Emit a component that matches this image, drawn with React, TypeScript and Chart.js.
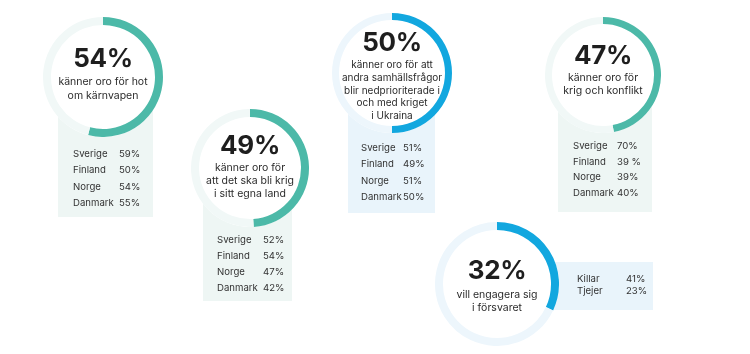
import React, { useEffect, useRef } from "react";
import { Chart, registerables } from "chart.js";

Chart.register(...registerables);

// ---- data ----
const headlineValues = [54, 49, 50, 47, 32];
const captions = [
  ["känner oro för hot", "om kärnvapen"],
  ["känner oro för", "att det ska bli krig", "i sitt egna land"],
  ["känner oro för att", "andra samhällsfrågor", "blir nedprioriterade i", "och med kriget", "i Ukraina"],
  ["känner oro för", "krig och konflikt"],
  ["vill engagera sig", "i försvaret"],
];
const countries = ["Sverige", "Finland", "Norge", "Danmark"];
const karnvapenValues = ["59%", "50%", "54%", "55%"];
const krigEgetLandValues = ["52%", "54%", "47%", "42%"];
const nedprioriteradeValues = ["51%", "49%", "51%", "50%"];
const krigKonfliktValues = ["70%", "39 %", "39%", "40%"];
const genders = ["Killar", "Tjejer"];
const engageraValues = ["41%", "23%"];

const tableLabels = [countries, countries, countries, countries, genders];
const tableValues = [karnvapenValues, krigEgetLandValues, nedprioriteradeValues, krigKonfliktValues, engageraValues];

// ---- styles / layout ----
const TEAL = { arc: "#4cb9a8", track: "#f1f8f7", panel: "#eef6f4" };
const BLUE = { arc: "#12a7df", track: "#edf6fc", panel: "#e9f4fb" };

const layout = [
  { cx: 103, cy: 77, r: 60, t: 8, c: TEAL, bigY: 58, capY: 82, capStep: 14, px: 58, py: 77, pw: 95, ph: 140, rowY: 154, rowStep: 16.3, lx: 73, vx: 119 },
  { cx: 250, cy: 168, r: 59, t: 8, c: TEAL, bigY: 145, capY: 168, capStep: 13, px: 203, py: 168, pw: 89, ph: 133, rowY: 240, rowStep: 16, lx: 217, vx: 263 },
  { cx: 392, cy: 73, r: 60, t: 7, c: BLUE, bigY: 42, capY: 64, capStep: 12.8, px: 348, py: 73, pw: 87, ph: 140, rowY: 148, rowStep: 16.3, lx: 361, vx: 403 },
  { cx: 603, cy: 75, r: 58, t: 7, c: TEAL, bigY: 55, capY: 78, capStep: 13, px: 558, py: 75, pw: 94, ph: 137, rowY: 146, rowStep: 15.7, lx: 573, vx: 617 },
  { cx: 497, cy: 284, r: 62, t: 8, c: BLUE, bigY: 270, capY: 295, capStep: 13, px: 520, py: 262, pw: 133, ph: 48, rowY: 279, rowStep: 12, lx: 577, vx: 626 },
];

const FONT = "Inter, 'Open Sans', sans-serif";
const TEXT = "#2b2b2b";

function Donut({ value, r, t, arc, track }: { value: number; r: number; t: number; arc: string; track: string }) {
  const ref = useRef<HTMLCanvasElement | null>(null);
  useEffect(() => {
    if (!ref.current) return;
    const chart = new Chart(ref.current, {
      type: "doughnut",
      data: {
        labels: ["value", "rest"],
        datasets: [
          {
            data: [value, 100 - value],
            backgroundColor: [arc, track],
            borderWidth: 0,
            hoverOffset: 0,
          },
        ],
      },
      options: {
        responsive: false,
        maintainAspectRatio: false,
        animation: false,
        events: [],
        cutout: `${((r - t) / r) * 100}%`,
        layout: { padding: 0 },
        plugins: { legend: { display: false }, tooltip: { enabled: false } },
      },
    });
    return () => chart.destroy();
  }, [value, r, t, arc, track]);
  return <canvas ref={ref} width={2 * r} height={2 * r} style={{ width: 2 * r, height: 2 * r, display: "block" }} />;
}

export default function App() {
  useEffect(() => {
    document.body.style.margin = "0";
  }, []);
  const abs: React.CSSProperties = { position: "absolute" };
  return (
    <div style={{ position: "relative", width: 750, height: 354, background: "#ffffff", overflow: "hidden", fontFamily: FONT, color: TEXT }}>
      {layout.map((L, i) => (
        <React.Fragment key={i}>
          <div style={{ ...abs, left: L.px, top: L.py, width: L.pw, height: L.ph, background: L.c.panel, zIndex: 1 }} />
          <div style={{ ...abs, left: L.cx - L.r, top: L.cy - L.r, width: 2 * L.r, height: 2 * L.r, borderRadius: "50%", background: "#ffffff", zIndex: 2 }} />
          <div style={{ ...abs, left: L.cx - L.r, top: L.cy - L.r, zIndex: 3 }}>
            <Donut value={headlineValues[i]} r={L.r} t={L.t} arc={L.c.arc} track={L.c.track} />
          </div>
          <div style={{ ...abs, left: L.cx, top: L.bigY, transform: "translate(-50%,-50%)", fontSize: 26, fontWeight: 700, lineHeight: 1, whiteSpace: "nowrap", zIndex: 4, color: "#1e1e1e", letterSpacing: -0.3 }}>
            {headlineValues[i]}%
          </div>
          {captions[i].map((line, j) => (
            <div key={j} style={{ ...abs, left: L.cx, top: L.capY + j * L.capStep, transform: "translate(-50%,-50%)", fontSize: i === 2 ? 10 : 10.5, lineHeight: 1, whiteSpace: "nowrap", zIndex: 4 }}>
              {line}
            </div>
          ))}
          {tableLabels[i].map((lab, j) => (
            <React.Fragment key={"r" + j}>
              <div style={{ ...abs, left: L.lx, top: L.rowY + j * L.rowStep, transform: "translateY(-50%)", fontSize: 9.6, lineHeight: 1, whiteSpace: "nowrap", zIndex: 4, color: "#333" }}>{lab}</div>
              <div style={{ ...abs, left: L.vx, top: L.rowY + j * L.rowStep, transform: "translateY(-50%)", fontSize: 9.6, lineHeight: 1, whiteSpace: "nowrap", zIndex: 4, color: "#333" }}>{tableValues[i][j]}</div>
            </React.Fragment>
          ))}
        </React.Fragment>
      ))}
    </div>
  );
}
